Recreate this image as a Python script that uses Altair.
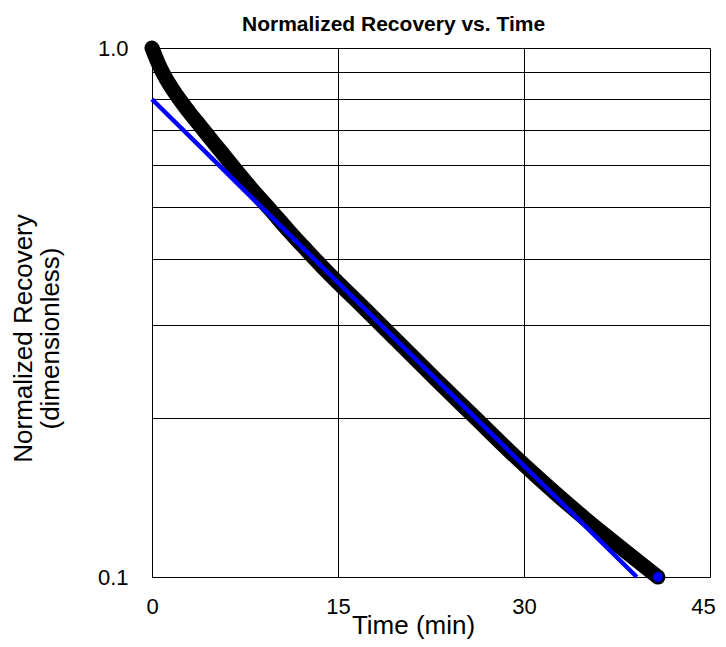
import altair as alt
import pandas as pd

# Measured recovery (dense black markers)
black_t = [0, 0.5, 1, 2, 3, 4, 5, 6, 7, 8, 9.5, 11, 12.5, 14, 17, 20, 23, 26, 29,
           31, 33, 35, 37, 39, 40.8]
black_v = [1.0, 0.936, 0.886, 0.813, 0.756, 0.707, 0.661, 0.619, 0.579, 0.543, 0.496,
           0.452, 0.414, 0.380, 0.324, 0.276, 0.235, 0.2007, 0.1714,
           0.1551, 0.1409, 0.1285, 0.1177, 0.1080, 0.1]

# Straight-line (log-linear) fit
fit_t = [0, 39.1]
fit_v = [0.8, 0.1]

# Final highlighted point
end_t = [40.8]
end_v = [0.1]

x_ticks = [0, 15, 30, 45]
y_ticks = [0.1, 0.2, 0.3, 0.4, 0.5, 0.6, 0.7, 0.8, 0.9, 1.0]

FONT = "Liberation Sans"

df_black = pd.DataFrame({"t": black_t, "v": black_v})
df_fit = pd.DataFrame({"t": fit_t, "v": fit_v})
df_end = pd.DataFrame({"t": end_t, "v": end_v})

x_enc = alt.X(
    "t:Q",
    scale=alt.Scale(domain=[0, 45], nice=False, zero=False),
    axis=alt.Axis(
        values=x_ticks,
        title="Time (min)",
        titleFont=FONT,
        titleFontSize=26,
        titleFontWeight="normal",
        titleColor="black",
        titleX=261,
        titleY=35,
        titleBaseline="top",
        labelFont=FONT,
        labelFontSize=22,
        labelColor="black",
        labelPadding=19,
        labelFlush=False,
        labelOffset={"condition": {"test": "datum.value == 45", "value": -7}, "value": 0},
        ticks=False,
        domain=False,
        grid=True,
        gridColor="black",
        gridOpacity=1,
        gridWidth=1,
    ),
)

y_enc = alt.Y(
    "v:Q",
    scale=alt.Scale(type="log", domain=[0.1, 1.0], nice=False),
    axis=alt.Axis(
        values=y_ticks,
        labelExpr="datum.value == 1 ? '1.0' : (datum.value == 0.1 ? '0.1' : '')",
        title=["Normalized Recovery", "(dimensionless)"],
        titleFont=FONT,
        titleFontSize=26,
        titleFontWeight="normal",
        titleColor="black",
        titleAngle=270,
        titleAlign="center",
        titleBaseline="bottom",
        titleLineHeight=27.5,
        titleX=-116,
        titleY=290,
        labelFont=FONT,
        labelFontSize=22,
        labelColor="black",
        labelPadding=24,
        labelFlush=False,
        ticks=False,
        domain=False,
        grid=True,
        gridColor="black",
        gridOpacity=1,
        gridWidth=1,
    ),
)

black_line = alt.Chart(df_black).mark_line(
    color="black", strokeWidth=15, strokeCap="round", strokeJoin="round",
    interpolate="monotone", clip=False
).encode(x=x_enc, y=y_enc)

fit_line = alt.Chart(df_fit).mark_line(
    color="#0000FF", strokeWidth=4.5
).encode(x="t:Q", y="v:Q")

end_point = alt.Chart(df_end).mark_point(
    filled=True, fill="#0000FF", stroke="black", strokeWidth=1.5, size=130, opacity=1, shape="circle"
).encode(x="t:Q", y="v:Q")

chart = (
    alt.layer(black_line, fit_line, end_point)
    .properties(
        width=558,
        height=529,
        autosize=alt.AutoSizeParams(type="none"),
        padding={"left": 144, "top": 40, "right": 8, "bottom": 64},
        title=alt.TitleParams(
            text="Normalized Recovery vs. Time",
            font=FONT,
            fontSize=21,
            fontWeight="bold",
            color="black",
            anchor="start",
            frame="group",
            dx=90,
            dy=33,
            baseline="alphabetic",
            offset=18,
        ),
    )
    .configure_view(stroke="black", strokeWidth=2)
    .configure(background="white")
)

chart.save("out.html", embed_options={"renderer": "svg", "actions": False})
